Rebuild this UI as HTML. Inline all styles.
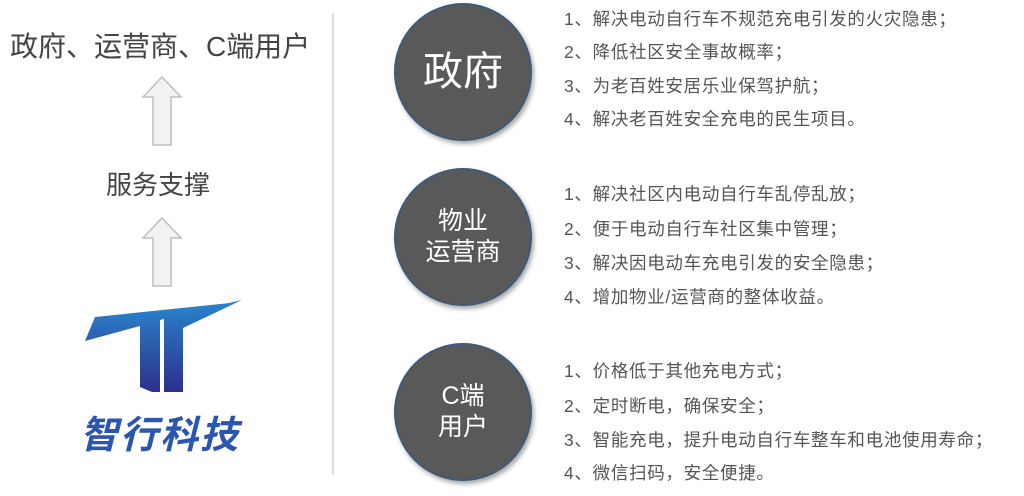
<!DOCTYPE html>
<html><head><meta charset="utf-8"><style>
body{margin:0;width:1024px;height:496px;background:#fff;position:relative;overflow:hidden;font-family:"Liberation Sans","Noto Sans CJK SC",sans-serif;color:#444}
.a{position:absolute;white-space:nowrap}
.c{position:absolute;width:134px;height:134px;border-radius:50%;background:#595959;border:2px solid #3e5a78;box-shadow:2px 3px 5px rgba(0,0,0,.35);color:#fff;display:flex;align-items:center;justify-content:center;text-align:center;line-height:1.25}
.t{position:absolute;left:564px;font-size:17.5px;letter-spacing:0.7px;color:#555;white-space:nowrap}
</style></head><body>
<div class="a" style="left:10px;top:25px;font-size:28px;color:#444">政府、运营商、C端用户</div>
<svg class="a" style="left:0;top:0" width="340" height="496">
<path d="M162 77 L181 97 L171 97 L171 145 L153 145 L153 97 L143 97 Z" fill="#f2f2f2" stroke="#bfbfbf" stroke-width="1.5"/>
<path d="M162 218 L181 238 L171 238 L171 286 L153 286 L153 238 L143 238 Z" fill="#f2f2f2" stroke="#bfbfbf" stroke-width="1.5"/>
<defs><linearGradient id="g" x1="0" y1="0" x2="0" y2="1"><stop offset="0" stop-color="#2a85cc"/><stop offset="1" stop-color="#2c2f8e"/></linearGradient></defs>
<path d="M95 317 L230 303 L160 320 L160 392 L152 392 L140 387 L140 326 L85 341 Z" fill="url(#g)"/>
<path d="M164 318 L242 300 L183 328 L183 392 L164 392 Z" fill="url(#g)"/>
<line x1="333" y1="13" x2="333" y2="475" stroke="#d0d0d0" stroke-width="1.5"/>
</svg>
<div class="a" style="left:106px;top:165px;font-size:26px;color:#444">服务支撑</div>
<div class="a" style="left:80px;top:404px;font-size:38px;font-weight:bold;font-style:italic;color:#2a55b0;letter-spacing:2px">智行科技</div>

<div class="c" style="left:394px;top:3px;font-size:40px">政府</div>
<div class="c" style="left:394px;top:168px;font-size:25px">物业<br>运营商</div>
<div class="c" style="left:394px;top:343px;font-size:25px">C端<br>用户</div>

<div class="t" style="top:6px">1、解决电动自行车不规范充电引发的火灾隐患；</div>
<div class="t" style="top:39px">2、降低社区安全事故概率；</div>
<div class="t" style="top:73px">3、为老百姓安居乐业保驾护航；</div>
<div class="t" style="top:106px">4、解决老百姓安全充电的民生项目。</div>

<div class="t" style="top:181px">1、解决社区内电动自行车乱停乱放；</div>
<div class="t" style="top:216px">2、便于电动自行车社区集中管理；</div>
<div class="t" style="top:250px">3、解决因电动车充电引发的安全隐患；</div>
<div class="t" style="top:284px">4、增加物业/运营商的整体收益。</div>

<div class="t" style="top:358px">1、价格低于其他充电方式；</div>
<div class="t" style="top:393px">2、定时断电，确保安全；</div>
<div class="t" style="top:427px">3、智能充电，提升电动自行车整车和电池使用寿命；</div>
<div class="t" style="top:460px">4、微信扫码，安全便捷。</div>
</body></html>
